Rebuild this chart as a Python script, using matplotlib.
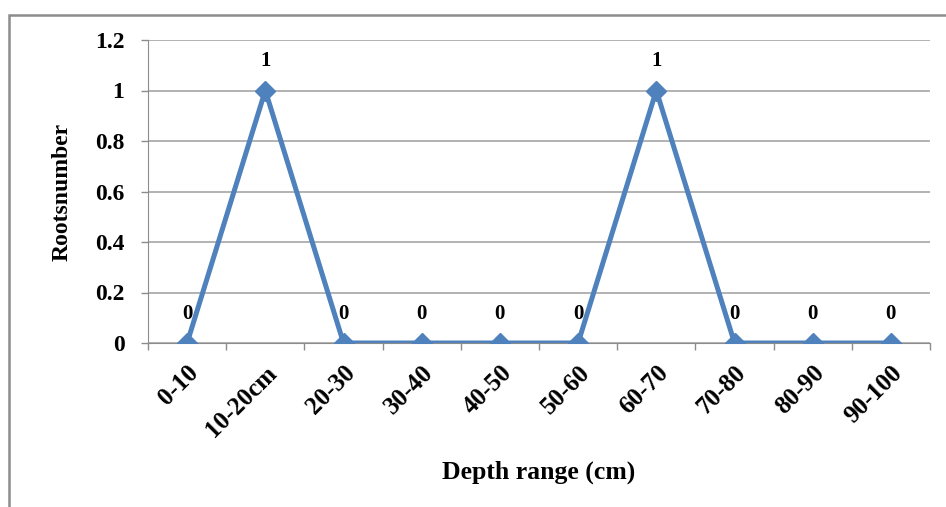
import matplotlib
matplotlib.use('Agg')
import matplotlib.pyplot as plt
from matplotlib.patches import Rectangle

# Root counts per soil depth interval
depths = ['0-10', '10-20cm', '20-30', '30-40', '40-50', '50-60', '60-70', '70-80', '80-90', '90-100']
roots = [0, 1, 0, 0, 0, 0, 1, 0, 0, 0]
yticks = [0, 0.2, 0.4, 0.6, 0.8, 1, 1.2]
ytick_labels = ['0', '0.2', '0.4', '0.6', '0.8', '1', '1.2']

plt.rcParams['font.family'] = ['Liberation Serif', 'DejaVu Serif']
plt.rcParams['font.weight'] = 'bold'

W, H = 946, 507
fig = plt.figure(figsize=(W / 100, H / 100), dpi=100)

# outer chart frame
fig.patches.append(Rectangle((9 / W, -0.1), 1.2, (H - 15) / H + 0.1,
                             transform=fig.transFigure, fill=False,
                             edgecolor='#8c8c8c', linewidth=1.8))

ax = fig.add_axes([148 / W, 1 - 343 / H, (930 - 148) / W, (343 - 40) / H])
x = range(len(depths))
ax.plot(x, roots, color='#4F81BD', linewidth=3.6, marker='D', markersize=10.5,
        clip_on=True, zorder=3)

for xi, v in zip(x, roots):
    ax.annotate(str(v), (xi, v), xytext=(0, 14), textcoords='offset points',
                ha='center', va='bottom', fontsize=15, fontweight='bold')

ax.set_xlim(-0.5, len(depths) - 0.5)
ax.set_ylim(0, 1.2)
ax.set_yticks(yticks)
ax.set_yticklabels(ytick_labels, fontsize=17, fontweight='bold')
ax.set_xticks(list(x))
ax.set_xticklabels(depths, rotation=45, ha='right', rotation_mode='anchor',
                   fontsize=18, fontweight='bold')
ax.set_xticks([i - 0.5 for i in range(len(depths) + 1)], minor=True)
ax.tick_params(axis='x', which='major', length=0, pad=13)
ax.tick_params(axis='x', which='minor', length=5, color='#8c8c8c', width=1)
ax.tick_params(axis='y', length=5, color='#8c8c8c', width=1, pad=12)

ax.grid(axis='y', color='#a6a6a6', linewidth=1.2)
ax.set_axisbelow(True)
for s in ['top', 'right']:
    ax.spines[s].set_visible(False)
ax.spines['left'].set_color('#8c8c8c')
ax.spines['bottom'].set_color('#8c8c8c')

ax.set_ylabel('Rootsnumber', fontsize=17, fontweight='bold', labelpad=16)
ax.set_xlabel('Depth range (cm)', fontsize=18.5, fontweight='bold', labelpad=14)

fig.savefig('out.png', dpi=100)
